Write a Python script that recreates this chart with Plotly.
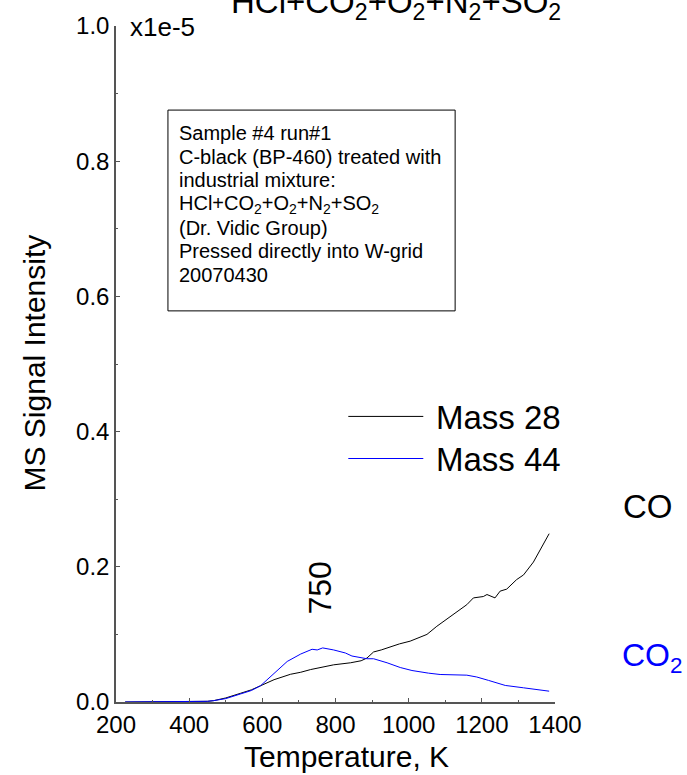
import plotly.graph_objects as go

# Temperature-programmed desorption traces (signal in units of 1e-5)
temp_co = [225, 300, 400, 450, 467, 500, 541, 570, 595, 632, 677, 705, 732, 760,
           795, 841, 870, 886, 904, 925, 950, 975, 1004, 1030, 1050, 1077, 1105,
           1130, 1159, 1177, 1204, 1214, 1236, 1250, 1268, 1295, 1314, 1341, 1368, 1384]
mass28 = [0, 0, 0, 0.001, 0.002, 0.006, 0.013, 0.018, 0.024, 0.033, 0.041, 0.044,
          0.048, 0.051, 0.055, 0.058, 0.061, 0.065, 0.074, 0.077, 0.082, 0.086,
          0.090, 0.095, 0.100, 0.112, 0.123, 0.132, 0.144, 0.154, 0.156, 0.159,
          0.154, 0.164, 0.167, 0.181, 0.188, 0.207, 0.232, 0.249]

temp_co2 = [225, 300, 400, 450, 467, 500, 541, 570, 595, 632, 668, 705, 736, 750,
            765, 795, 827, 845, 886, 904, 941, 977, 1009, 1054, 1086, 1159, 1186,
            1218, 1264, 1314, 1384]
mass44 = [0, 0, 0, 0.001, 0.002, 0.005, 0.012, 0.017, 0.024, 0.043, 0.060, 0.071,
          0.078, 0.077, 0.080, 0.077, 0.0725, 0.068, 0.064, 0.064, 0.058, 0.051,
          0.0466, 0.0427, 0.0407, 0.0397, 0.037, 0.032, 0.0245, 0.021, 0.016]

y_ticks = [0.0, 0.2, 0.4, 0.6, 0.8, 1.0]
series_names = ["Mass 28", "Mass 44"]
peak_label = "750"

box_lines = [
    "Sample #4 run#1",
    "C-black (BP-460) treated with",
    "industrial mixture:",
    "HCl+CO<sub>2</sub>+O<sub>2</sub>+N<sub>2</sub>+SO<sub>2</sub>",
    "(Dr. Vidic Group)",
    "Pressed directly into W-grid",
    "20070430",
]

FONT = "Liberation Sans, Arial, sans-serif"
BLUE = "#0000ff"
AXIS = "#555555"

W, H = 687, 775
L, R, T, B = 116, 132, 21, 73
PW, PH = W - L - R, H - T - B


def px_to_paper(px, py):
    return (px - L) / PW, (H - B - py) / PH


def py_to_data(py):
    return (H - B - py) / PH


fig = go.Figure()
fig.add_trace(go.Scatter(x=temp_co, y=mass28, mode="lines",
                         line=dict(color="black", width=1), name=series_names[0]))
fig.add_trace(go.Scatter(x=temp_co2, y=mass44, mode="lines",
                         line=dict(color=BLUE, width=1), name=series_names[1]))

shapes = []
annotations = []

# info box
shapes.append(dict(type="rect", xref="x", yref="y", x0=342, x1=1127,
                   y0=py_to_data(308), y1=py_to_data(105.7),
                   line=dict(color="black", width=1), fillcolor="rgba(0,0,0,0)"))
for i, txt in enumerate(box_lines):
    annotations.append(dict(xref="x", yref="y", x=366, y=py_to_data(129 + 23.8 * i),
                            text=txt, showarrow=False, xanchor="left", yanchor="middle",
                            font=dict(family=FONT, size=20, color="black")))

# legend drawn as sample lines with labels
for name, color, py in [(series_names[0], "black", 414.3), (series_names[1], BLUE, 456.7)]:
    shapes.append(dict(type="line", xref="x", yref="y", x0=835, x1=1040,
                       y0=py_to_data(py), y1=py_to_data(py),
                       line=dict(color=color, width=1)))
    annotations.append(dict(xref="x", yref="y", x=1068, y=py_to_data(py + 1),
                            text=name, showarrow=False, xanchor="left", yanchor="middle",
                            font=dict(family=FONT, size=33, color="black")))

# peak temperature label
annotations.append(dict(xref="x", yref="y", x=757, y=py_to_data(587), text=peak_label,
                        textangle=-90, showarrow=False, xanchor="center", yanchor="middle",
                        font=dict(family=FONT, size=32, color="black")))

# species labels
x, y = px_to_paper(647.5, 505)
annotations.append(dict(xref="paper", yref="paper", x=x, y=y, text="CO", showarrow=False,
                        xanchor="center", yanchor="middle",
                        font=dict(family=FONT, size=33, color="black")))
x, y = px_to_paper(620, 657)
annotations.append(dict(xref="paper", yref="paper", x=x, y=y, text="CO<sub>2</sub>",
                        showarrow=False, xanchor="left", yanchor="middle",
                        font=dict(family=FONT, size=32, color=BLUE)))

# title and exponent
x, y = px_to_paper(396, -1)
annotations.append(dict(xref="paper", yref="paper", x=x, y=y,
                        text="HCl+CO<sub>2</sub>+O<sub>2</sub>+N<sub>2</sub>+SO<sub>2</sub>",
                        showarrow=False, xanchor="center", yanchor="middle",
                        font=dict(family=FONT, size=33, color="black")))
x, y = px_to_paper(128, 22)
annotations.append(dict(xref="paper", yref="paper", x=x, y=y, text="x1e-5",
                        showarrow=False, xanchor="left", yanchor="middle",
                        font=dict(family=FONT, size=26, color="black")))

# axis titles
x, y = px_to_paper(346, 757)
annotations.append(dict(xref="paper", yref="paper", x=x, y=y, text="Temperature, K",
                        showarrow=False, xanchor="center", yanchor="middle",
                        font=dict(family=FONT, size=30, color="black")))
x, y = px_to_paper(35, 361)
annotations.append(dict(xref="paper", yref="paper", x=x, y=y, text="MS Signal Intensity",
                        textangle=-90, showarrow=False, xanchor="center", yanchor="middle",
                        font=dict(family=FONT, size=30, color="black")))

fig.update_layout(
    width=W, height=H,
    margin=dict(l=L, r=R, t=T, b=B),
    paper_bgcolor="white", plot_bgcolor="white",
    showlegend=False,
    shapes=shapes, annotations=annotations,
    xaxis=dict(range=[200, 1400], tick0=200, dtick=200, showgrid=False, zeroline=False,
               showline=True, linecolor=AXIS, linewidth=1.5,
               ticks="inside", ticklen=4, tickcolor=AXIS, tickwidth=1,
               minor=dict(ticks="inside", ticklen=2, dtick=100, tickcolor=AXIS),
               tickfont=dict(family=FONT, size=24, color="black")),
    yaxis=dict(range=[0, 1.0], tickvals=y_ticks, tickformat=".1f", showgrid=False,
               zeroline=False, showline=True, linecolor=AXIS, linewidth=1.5,
               ticks="inside", ticklen=4, tickcolor=AXIS, tickwidth=1,
               minor=dict(ticks="inside", ticklen=2, dtick=0.1, tickcolor=AXIS),
               tickfont=dict(family=FONT, size=24, color="black")),
)

fig.write_html("out.html")
